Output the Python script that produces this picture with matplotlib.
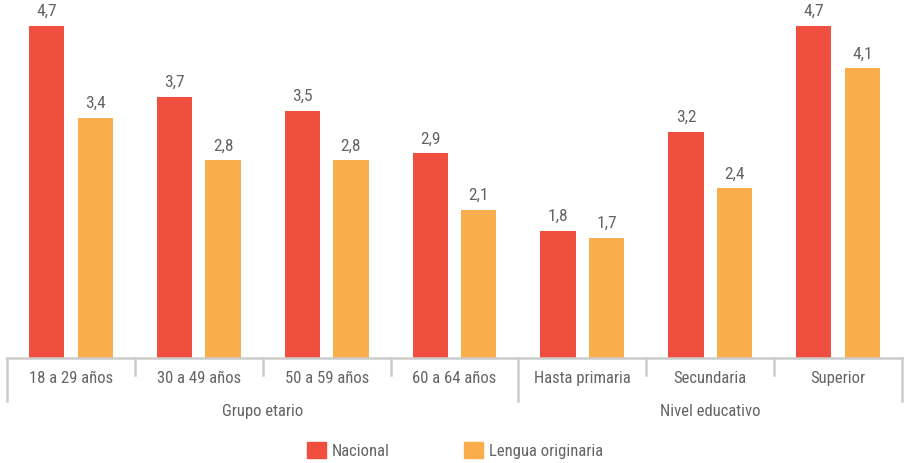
import matplotlib.pyplot as plt
from matplotlib.patches import Patch

# data
categorias = ['18 a 29 años', '30 a 49 años', '50 a 59 años', '60 a 64 años',
              'Hasta primaria', 'Secundaria', 'Superior']
nacional = [4.7, 3.7, 3.5, 2.9, 1.8, 3.2, 4.7]
lengua = [3.4, 2.8, 2.8, 2.1, 1.7, 2.4, 4.1]
grupos = ['Grupo etario', 'Nivel educativo']
grupo_rango = [(-0.5, 3.5), (3.5, 6.5)]

fuente = ['Roboto Condensed', 'Liberation Sans Narrow', 'DejaVu Sans']
estirado = 'condensed'
gris = '#636466'
rojo = '#f04e3e'
naranja = '#f9ad4c'

fig = plt.figure(figsize=(9.06, 4.64), dpi=100)
ax = fig.add_axes([7 / 906, 105 / 464, 895 / 906, 359 / 464])
ax.set_xlim(-0.5, 6.5)
ax.set_ylim(0, 5.08)
ax.axis('off')

x = list(range(len(categorias)))
w = 0.275
b1 = ax.bar([i - 0.19 for i in x], nacional, width=w, color=rojo)
b2 = ax.bar([i + 0.19 for i in x], lengua, width=w, color=naranja)

for bars, vals in ((b1, nacional), (b2, lengua)):
    for r, v in zip(bars, vals):
        ax.annotate(f'{v:.1f}'.replace('.', ','),
                    (r.get_x() + r.get_width() / 2, v), xytext=(0, 5.5),
                    textcoords='offset points', ha='center', va='bottom',
                    fontsize=12.5, color=gris, family=fuente, stretch=estirado)

# eje y separadores
tr = ax.get_xaxis_transform()
lc = '#cccccc'
ax.plot([-0.5, 6.5], [0, 0], color=lc, lw=1.8, transform=tr, clip_on=False)
for b in [0.5, 1.5, 2.5, 4.5, 5.5]:
    ax.plot([b, b], [0, -17 / 359], color=lc, lw=1.8, transform=tr, clip_on=False)
for b in [-0.5, 3.5, 6.5]:
    ax.plot([b, b], [0, -43 / 359], color=lc, lw=1.8, transform=tr, clip_on=False)

for i, c in enumerate(categorias):
    ax.text(i, -20 / 359, c, transform=tr, ha='center', va='center',
            fontsize=12, color=gris, family=fuente, stretch=estirado)

for g, (a, b) in zip(grupos, grupo_rango):
    ax.text((a + b) / 2, -53 / 359, g, transform=tr, ha='center', va='center',
            fontsize=12, color=gris, family=fuente, stretch=estirado)

handles = [Patch(color=rojo), Patch(color=naranja)]
leg = fig.legend(handles, ['Nacional', 'Lengua originaria'], ncol=2,
                 loc='center', bbox_to_anchor=(455 / 906, 1 - 451 / 464),
                 frameon=False, handlelength=1.1, handleheight=1.1,
                 handletextpad=0.35, columnspacing=4.5,
                 prop={'family': fuente, 'size': 12, 'stretch': estirado})
for t in leg.get_texts():
    t.set_color(gris)

plt.savefig('out.png', dpi=100)
